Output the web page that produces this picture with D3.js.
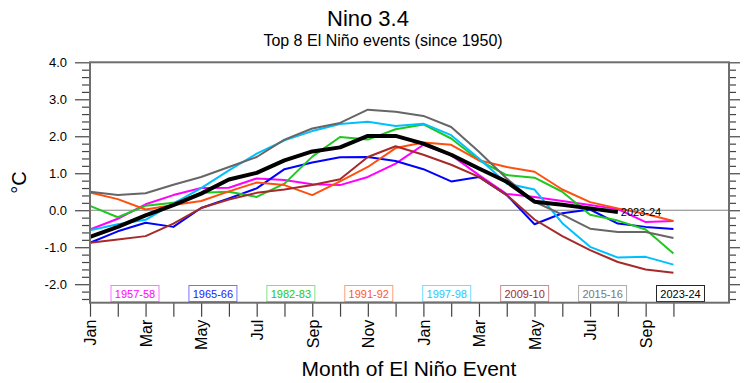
<!DOCTYPE html>
<html>
<head>
<meta charset="utf-8">
<script src="https://cdn.jsdelivr.net/npm/d3@7"></script>
<style>
  body { margin: 0; background: #fff; }
  svg { display: block; font-family: "Liberation Sans", Arial, Helvetica, sans-serif; }
</style>
</head>
<body>
<svg id="chart" width="754" height="383"></svg>
<script>
// ---- data ----
const monthLabels = ["Jan","Mar","May","Jul","Sep","Nov","Jan","Mar","May","Jul","Sep"];
const yTickValues = [-2, -1, 0, 1, 2, 3, 4];
const eventNames = ["1957-58","1965-66","1982-83","1991-92","1997-98","2009-10","2015-16","2023-24"];
const eventColors = ["#ff00ff","#0000ff","#1ec81e","#ff4f0f","#00bfff","#a52a2a","#666666","#000000"];
const legendText = ["#ff00ff","#2020ff","#22c922","#ff5a1f","#1ec8ff","#a52a2a","#777777","#000000"];

const ev1957 = [-0.52,-0.23,0.16,0.41,0.60,0.61,0.86,0.82,0.70,0.68,0.90,1.26,1.77,1.49,0.95,0.44,0.36,0.25,0.14,0.03,-0.32,-0.29];
const ev1965 = [-0.88,-0.57,-0.34,-0.45,0.06,0.32,0.59,1.11,1.29,1.43,1.44,1.33,1.11,0.78,0.90,0.41,-0.38,-0.08,0.02,-0.36,-0.45,-0.51];
const ev1982 = [0.12,-0.19,0.12,0.20,0.47,0.50,0.36,0.72,1.45,1.98,1.91,2.19,2.32,1.94,1.35,0.95,0.88,0.50,-0.12,-0.28,-0.52,-1.17];
const ev1991 = [0.48,0.30,0.02,0.14,0.25,0.51,0.75,0.68,0.41,0.78,1.17,1.68,1.83,1.77,1.35,1.17,1.04,0.56,0.22,0.05,-0.10,-0.29];
const ev1997 = [-0.54,-0.38,-0.26,0.18,0.60,1.08,1.53,1.89,2.14,2.33,2.39,2.28,2.34,2.03,1.40,0.72,0.56,-0.35,-0.99,-1.28,-1.26,-1.47];
const ev2009 = [-0.88,-0.79,-0.70,-0.36,0.06,0.29,0.47,0.56,0.68,0.84,1.44,1.73,1.50,1.23,0.90,0.41,-0.25,-0.70,-1.08,-1.40,-1.60,-1.69];
const ev2015 = [0.50,0.41,0.46,0.69,0.90,1.17,1.44,1.91,2.21,2.36,2.72,2.66,2.55,2.25,1.58,0.86,0.23,-0.12,-0.50,-0.59,-0.59,-0.75];
const ev2023 = [-0.72,-0.45,-0.14,0.14,0.45,0.83,1.01,1.35,1.59,1.70,2.01,2.01,1.80,1.50,1.13,0.77,0.23,0.15,0.05,-0.05];

const seriesList = [ev1957, ev1965, ev1982, ev1991, ev1997, ev2009, ev2015, ev2023];

// ---- layout ----
const svg = d3.select("#chart");
const L = 90, R = 729, T = 62.3, B = 302.7;
const x = d3.scaleLinear().domain([0, 23]).range([L, R]);
const y = d3.scaleLinear().domain([-2.5, 4.0]).range([B, T]);
const fmt = v => d3.format(".1f")(v).replace("\u2212", "-");
const minorY = d3.range(-2.4, 4.0001, 0.2).map(v => +v.toFixed(1)).filter(v => Math.abs(v - Math.round(v)) > 1e-6);

// titles
svg.append("text").attr("x", 368).attr("y", 26).attr("text-anchor", "middle")
  .style("font-size", "22px").text("Nino 3.4");
svg.append("text").attr("x", 383).attr("y", 46).attr("text-anchor", "middle")
  .style("font-size", "16px").text("Top 8 El Niño events (since 1950)");

// zero line
svg.append("line").attr("x1", L).attr("x2", R).attr("y1", y(0)).attr("y2", y(0))
  .attr("stroke", "#808080").attr("stroke-width", 1);

// lines
const line = d3.line().x((d, i) => x(i)).y(d => y(d));
seriesList.forEach((s, k) => {
  svg.append("path").datum(s).attr("d", line).attr("fill", "none")
    .attr("stroke", eventColors[k]).attr("stroke-width", k === 7 ? 4 : 2)
    .attr("stroke-linejoin", "round");
});

// end label for latest event
svg.append("text").attr("x", x(ev2023.length - 1) + 3).attr("y", y(ev2023[ev2023.length - 1]))
  .attr("dy", "0.35em").style("font-size", "11px").text(eventNames[7]);

// legend boxes
const legendCenter = d3.scaleLinear().domain([0, 7]).range([135, 680.5]);
eventNames.forEach((n, k) => {
  const cx = legendCenter(k);
  svg.append("rect").attr("x", cx - 24).attr("y", 285.5).attr("width", 48).attr("height", 16)
    .attr("fill", "#fff").attr("stroke", eventColors[k]).attr("stroke-opacity", k === 7 ? 0.85 : 0.55)
    .attr("stroke-width", 1);
  svg.append("text").attr("x", cx).attr("y", 293.8).attr("dy", "0.35em").attr("text-anchor", "middle")
    .style("font-size", "11px").attr("fill", legendText[k]).text(n);
});

// axes
const gL = svg.append("g").attr("transform", `translate(${L},0)`);
gL.call(d3.axisLeft(y).tickValues(yTickValues).tickSize(15).tickPadding(8).tickFormat(fmt));
gL.append("g").call(d3.axisLeft(y).tickValues(minorY).tickSize(8).tickFormat(""));
const gR = svg.append("g").attr("transform", `translate(${R},0)`);
gR.call(d3.axisRight(y).tickValues(yTickValues).tickSize(11).tickFormat(""));
gR.append("g").call(d3.axisRight(y).tickValues(minorY).tickSize(7).tickFormat(""));
const gB = svg.append("g").attr("transform", `translate(0,${B})`);
gB.call(d3.axisBottom(x).tickValues(d3.range(0, 22)).tickSize(14)
  .tickFormat(i => (i % 2 === 0 ? monthLabels[i / 2] : "")));
gB.selectAll(".tick text").attr("y", 0).attr("x", -17).attr("dy", "0.36em")
  .attr("transform", "rotate(-90)").style("text-anchor", "end").style("font-size", "16px").attr("fill", "#000");

svg.selectAll(".domain").remove();
svg.selectAll(".tick line").attr("stroke", "#444").attr("stroke-width", 1.2);
gL.selectAll(".tick text").style("font-size", "13px").attr("fill", "#000");

// frame
svg.append("rect").attr("x", L).attr("y", T).attr("width", R - L).attr("height", B - T)
  .attr("fill", "none").attr("stroke", "#6e6e6e").attr("stroke-width", 2);

// axis titles
svg.append("text").attr("transform", `translate(26,${(T + B) / 2}) rotate(-90)`)
  .attr("text-anchor", "middle").style("font-size", "20px").text("°C");
svg.append("text").attr("x", 409).attr("y", 376).attr("text-anchor", "middle")
  .style("font-size", "21px").text("Month of El Niño Event");
</script>
</body>
</html>
